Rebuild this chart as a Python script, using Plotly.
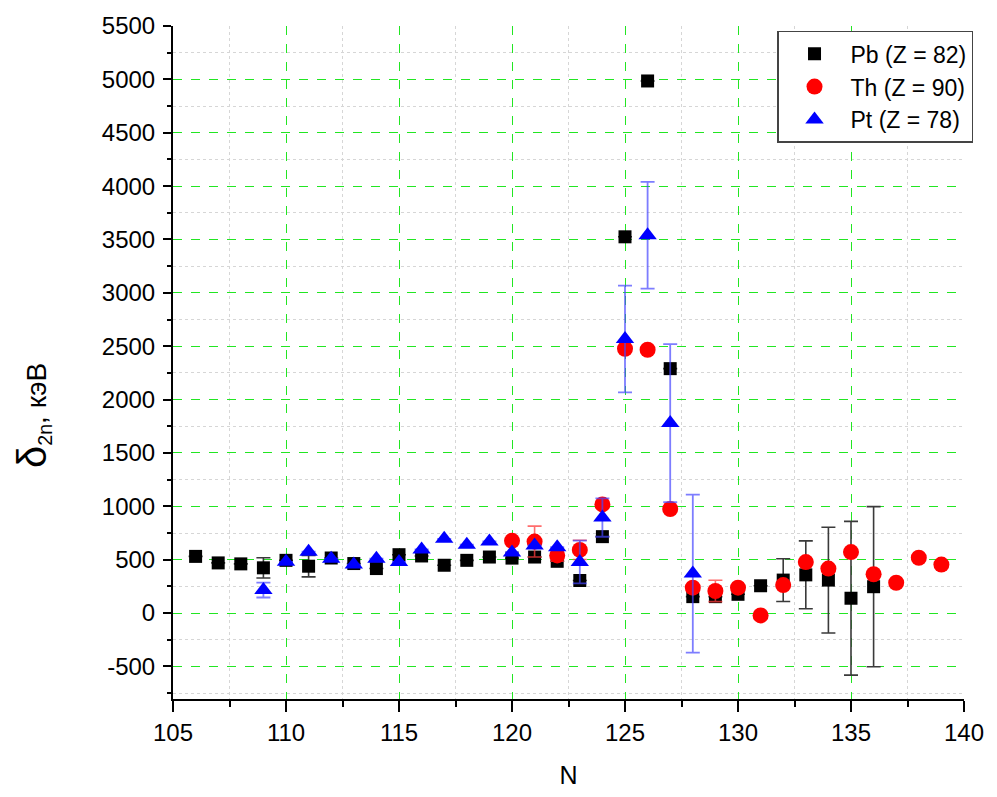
import plotly.graph_objects as go

# ---- data ----
pb_n = [106, 107, 108, 109, 110, 111, 112, 113, 114, 115, 116, 117, 118, 119, 120,
        121, 122, 123, 124, 125, 126, 127, 128, 129, 130, 131, 132, 133, 134, 135, 136]
pb_v = [531, 470, 461, 424, 494, 439, 516, 464, 417, 547, 535, 448, 494, 525, 515,
        525, 485, 305, 716, 3525, 4985, 2290, 154, 154, 176, 256, 309, 358, 309, 139, 247]
pb_e = [None, None, None, 95, None, 100, None, None, None, None, None, None, None, None, None,
        None, None, None, None, None, None, None, None, None, None, None, 200, 318, 495, 720, 750]

th_n = [120, 121, 122, 123, 124, 125, 126, 127, 128, 129, 130, 131, 132, 133, 134,
        135, 136, 137, 138, 139]
th_v = [677, 670, 540, 592, 1018, 2476, 2467, 975, 238, 207, 238, -22, 262, 478, 417,
        571, 364, 284, 518, 454]
th_e = [None, 145, 55, 90, None, None, None, None, None, 100, None, None, None, None, None,
        None, None, None, None, None]

pt_n = [109, 110, 111, 112, 113, 114, 115, 116, 117, 118, 119, 120, 121, 122, 123,
        124, 125, 126, 127, 128]
pt_v = [216, 480, 575, 510, 454, 510, 479, 596, 696, 640, 671, 568, 633, 617, 478,
        895, 2568, 3540, 1780, 370]
pt_e = [70, None, None, None, None, None, None, None, None, None, None, None, None, None, 200,
        180, 500, 500, 740, 740]

x_ticks = [105, 110, 115, 120, 125, 130, 135, 140]
y_ticks = [-500, 0, 500, 1000, 1500, 2000, 2500, 3000, 3500, 4000, 4500, 5000, 5500]

FONT = "Liberation Sans, Arial, sans-serif"
GRID = "#22e622"

fig = go.Figure()
fig.add_trace(go.Scatter(
    x=pb_n, y=pb_v, mode="markers", name="Pb (Z = 82)",
    marker=dict(symbol="square", size=13, color="black"),
    error_y=dict(type="data", array=pb_e, visible=True, color="#3a3a3a", thickness=1.6, width=7),
))
fig.add_trace(go.Scatter(
    x=th_n, y=th_v, mode="markers", name="Th (Z = 90)",
    marker=dict(symbol="circle", size=16, color="#ff0000"),
    error_y=dict(type="data", array=th_e, visible=True, color="rgba(255,60,60,0.75)", thickness=1.6, width=7),
))
fig.add_trace(go.Scatter(
    x=pt_n, y=pt_v, mode="markers", name="Pt (Z = 78)",
    marker=dict(symbol="triangle-up", size=16, color="#0000ff"),
    error_y=dict(type="data", array=pt_e, visible=True, color="rgba(70,70,255,0.7)", thickness=1.8, width=7),
))

fig.update_layout(
    width=997, height=797,
    margin=dict(l=173, r=33, t=22, b=95),
    paper_bgcolor="white", plot_bgcolor="white",
    font=dict(family=FONT, color="black"),
    showlegend=True,
    legend=dict(
        x=1.0114, xanchor="right", y=0.993, yanchor="top",
        font=dict(family=FONT, size=23, color="black"),
        bordercolor="#444", borderwidth=1.5, bgcolor="white",
        itemwidth=62,
    ),
    xaxis=dict(
        range=[105, 140], tickmode="array", tickvals=x_ticks,
        ticktext=[str(v) for v in x_ticks],
        tickfont=dict(size=24, family=FONT),
        showline=True, linecolor="black", linewidth=2,
        ticks="outside", ticklen=11, tickwidth=2, tickcolor="black",
        showgrid=True, gridcolor=GRID, griddash="dash", gridwidth=1,
        zeroline=False,
        minor=dict(dtick=5, tick0=107.5, ticks="outside", ticklen=6, tickwidth=2, tickcolor="black",
                   showgrid=True, gridcolor="#d6d6d6", griddash="dot", gridwidth=1),
        title=dict(text="N", font=dict(size=25, family=FONT), standoff=22),
    ),
    yaxis=dict(
        range=[-805, 5500], tickmode="array", tickvals=y_ticks,
        ticktext=[str(v) for v in y_ticks],
        tickfont=dict(size=24, family=FONT),
        ticklabelstandoff=3,
        showline=True, linecolor="black", linewidth=2,
        ticks="outside", ticklen=8, tickwidth=2, tickcolor="black",
        showgrid=True, gridcolor=GRID, griddash="dash", gridwidth=1,
        zeroline=False,
        minor=dict(dtick=500, tick0=250, ticks="outside", ticklen=4, tickwidth=2, tickcolor="black",
                   showgrid=True, gridcolor="#d6d6d6", griddash="dot", gridwidth=1),
    ),
)

fig.add_annotation(
    xref="paper", yref="paper", x=-0.177, y=0.422,
    xanchor="center", yanchor="middle", showarrow=False, textangle=-90,
    text="<span style='font-size:40px'>δ</span><sub>2n</sub>, кэВ",
    font=dict(size=28, family=FONT, color="black"),
)

fig.write_html("out.html")
